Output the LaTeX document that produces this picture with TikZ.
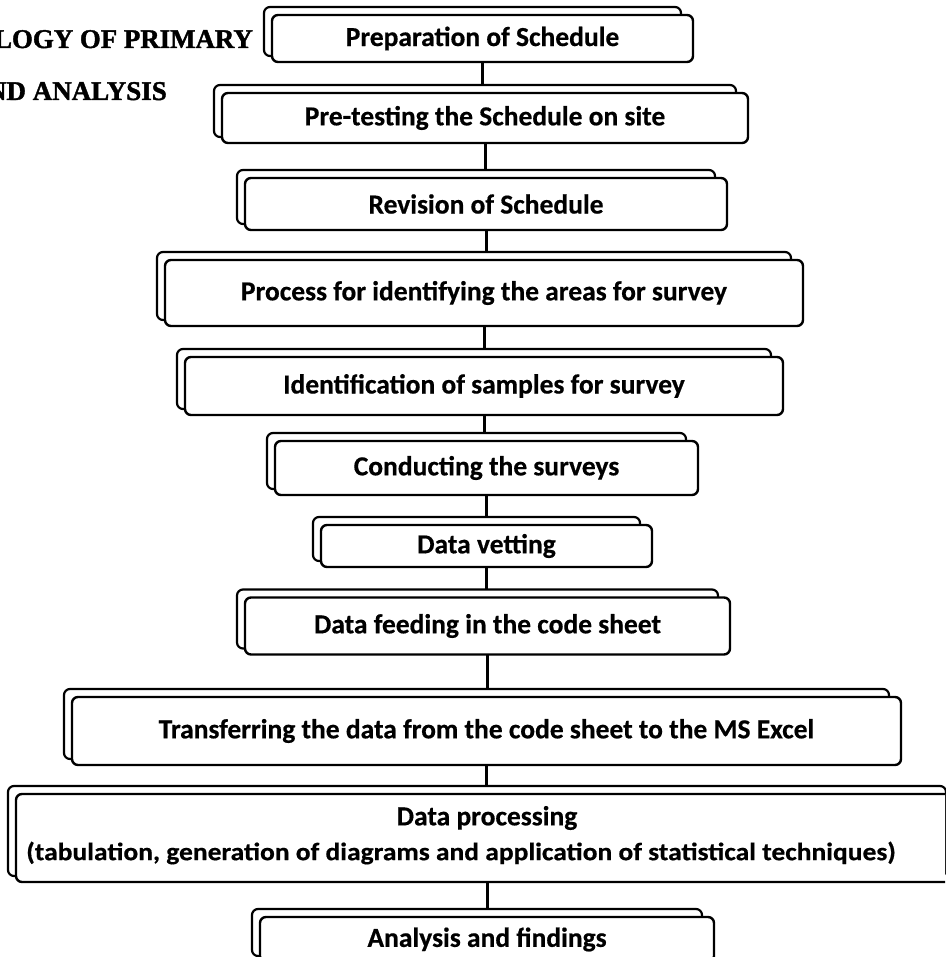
\documentclass[tikz,border=0pt]{standalone}
\usepackage{fontspec}
\setmainfont{Carlito}[BoldFeatures={FakeBold=0.5}]
\newfontfamily\titlefont{Liberation Serif}[BoldFeatures={FakeBold=1.5}]
\usetikzlibrary{backgrounds,calc}

% back sheet of a stacked step box
\newcommand\backsheet[1]{%
  \draw[backbox] ([shift={(-8pt,8pt)}]#1.north west) rectangle ([shift={(-12pt,6pt)}]#1.south east);}
% top of the back sheet, where an incoming link ends
\newcommand\sheettop[2]{\coordinate (#1) at ([yshift=8pt]#2.north);}

\begin{document}
\begin{tikzpicture}[x=1pt,y=-1pt,
  stepbox/.style={draw, line width=2.4pt, rounded corners=6pt, fill=white,
    inner sep=0pt, outer sep=0pt, align=center,
    font=\fontsize{27.5}{33}\selectfont\bfseries},
  backbox/.style={draw, line width=2.2pt, rounded corners=6pt, fill=white},
  steptext/.style={inner sep=0pt, font=\fontsize{27.5}{33}\selectfont\bfseries},
  subtext/.style={inner sep=0pt, font=\fontsize{25}{30}\selectfont\bfseries},
  titletext/.style={inner sep=0pt, anchor=base east,
    font=\fontsize{27}{31}\selectfont\titlefont\bfseries},
  link/.style={line width=3pt}]
\useasboundingbox (0,0) rectangle (945,957);
\clip (0,0) rectangle (945,957);

% title, running off the left edge
\node[titletext] (title1) at (253,48) {\scalebox{0.995}[1]{LOGY OF PRIMARY}};
\node[titletext] (title2) at (167,100) {ND ANALYSIS};

% steps
\node[stepbox, minimum width=421pt, minimum height=47pt] (s1) at (482.5,38.5) {Preparation of Schedule};
\node[stepbox, minimum width=526pt, minimum height=50pt] (s2) at (485,118) {Pre-testing the Schedule on site};
\node[stepbox, minimum width=482pt, minimum height=52pt] (s3) at (486,204) {Revision of Schedule};
\node[stepbox, minimum width=638pt, minimum height=66pt] (s4) at (484,293) {Process for identifying the areas for survey};
\node[stepbox, minimum width=598pt, minimum height=58pt] (s5) at (484,386) {Identification of samples for survey};
\node[stepbox, minimum width=423pt, minimum height=54pt] (s6) at (486.5,468) {Conducting the surveys};
\node[stepbox, minimum width=331pt, minimum height=42pt] (s7) at (486.5,546) {Data vetting};
\node[stepbox, minimum width=485pt, minimum height=57pt] (s8) at (487.5,626) {Data feeding in the code sheet};
\node[stepbox, minimum width=829pt, minimum height=68pt] (s9) at (486.5,731) {Transferring the data from the code sheet to the MS Excel};
\node[stepbox, minimum width=942pt, minimum height=88pt] (s10) at (487,838) {};
\node[steptext] (s10a) at (487,818) {Data processing};
\node[subtext] (s10b) at (461,853) {\scalebox{1.1}[1]{(tabulation, generation of diagrams and application of statistical techniques)}};
\node[stepbox, minimum width=454pt, minimum height=45pt] (s11) at (487,939.5) {Analysis and findings};

\begin{scope}[on background layer]
  \foreach \s in {s1,s2,s3,s4,s5,s6,s7,s8,s9,s10,s11} {\backsheet{\s}}
\end{scope}

% links between steps
\sheettop{t2}{s2}
\sheettop{t3}{s3}
\sheettop{t4}{s4}
\sheettop{t5}{s5}
\sheettop{t6}{s6}
\sheettop{t7}{s7}
\sheettop{t8}{s8}
\sheettop{t9}{s9}
\sheettop{t10}{s10}
\sheettop{t11}{s11}
\draw[link] (s1.south) -- (s1.south |- t2);
\draw[link] (s2.south) -- (s2.south |- t3);
\draw[link] (s3.south) -- (s3.south |- t4);
\draw[link] (s4.south) -- (s4.south |- t5);
\draw[link] (s5.south) -- (s5.south |- t6);
\draw[link] (s6.south) -- (s6.south |- t7);
\draw[link] (s7.south) -- (s7.south |- t8);
\draw[link] (s8.south) -- (s8.south |- t9);
\draw[link] (s9.south) -- (s9.south |- t10);
\draw[link] (s10.south) -- (s10.south |- t11);
\end{tikzpicture}
\end{document}
